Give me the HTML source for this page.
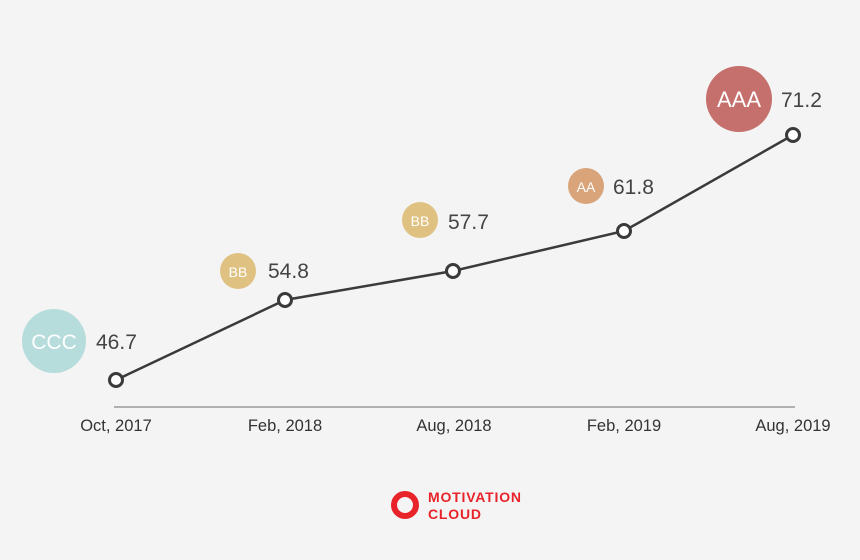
<!DOCTYPE html><html><head><style>body{margin:0;background:#f4f4f4}</style></head><body>
<svg width="860" height="560" xmlns="http://www.w3.org/2000/svg" style="display:block;font-family:'Liberation Sans',sans-serif">
<rect width="860" height="560" fill="#f4f4f4"/>
<line x1="114" y1="407" x2="795" y2="407" stroke="#999" stroke-width="1.5"/>
<g font-size="16.5" fill="#333" text-anchor="middle">
<text x="116" y="431">Oct, 2017</text><text x="285" y="431">Feb, 2018</text><text x="454" y="431">Aug, 2018</text><text x="624" y="431">Feb, 2019</text><text x="793" y="431">Aug, 2019</text></g>
<polyline points="116,380 285,300 453,271 624,231 793,135" fill="none" stroke="#3a3a3a" stroke-width="2.5"/>
<g fill="#fff" stroke="#3a3a3a" stroke-width="3">
<circle cx="116" cy="380" r="6.5"/><circle cx="285" cy="300" r="6.5"/><circle cx="453" cy="271" r="6.5"/><circle cx="624" cy="231" r="6.5"/><circle cx="793" cy="135" r="6.5"/></g>
<circle cx="54" cy="341" r="32" fill="#b6dcdc"/><circle cx="238" cy="271" r="18" fill="#dfc282"/><circle cx="420" cy="220" r="18" fill="#dfc282"/><circle cx="586" cy="186" r="18" fill="#d9a47a"/><circle cx="739" cy="99" r="33" fill="#c5706c"/>
<g fill="#fff" text-anchor="middle"><text x="54" y="349" font-size="21">CCC</text><text x="238" y="277" font-size="14">BB</text><text x="420" y="226" font-size="14">BB</text><text x="586" y="192" font-size="14">AA</text><text x="739" y="107" font-size="22">AAA</text></g>
<g fill="#444" font-size="21"><text x="96" y="349">46.7</text><text x="268" y="278">54.8</text><text x="448" y="229">57.7</text><text x="613" y="194">61.8</text><text x="781" y="107">71.2</text></g>
<circle cx="405" cy="505" r="11" fill="none" stroke="#e8242a" stroke-width="6"/>
<g fill="#e8242a" font-size="14" font-weight="bold" letter-spacing="0.8"><text x="428" y="502">MOTIVATION</text><text x="428" y="519">CLOUD</text></g>
</svg></body></html>
